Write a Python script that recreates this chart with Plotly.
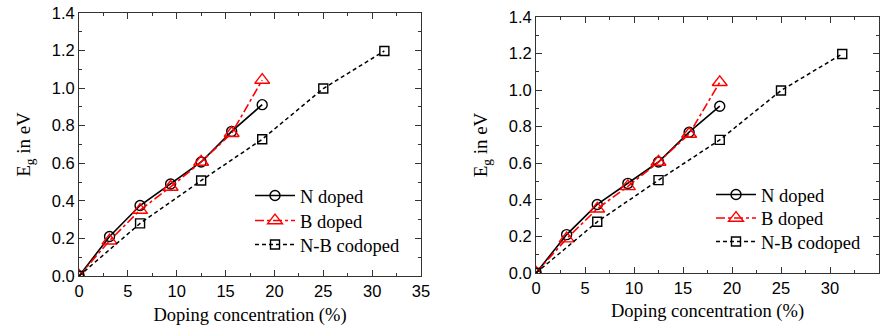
import plotly.graph_objects as go

# Band gap vs doping concentration
x_single = [0, 3.125, 6.25, 9.375, 12.5, 15.625, 18.75]
eg_n_doped = [0, 0.21, 0.375, 0.49, 0.607, 0.77, 0.912]
eg_b_doped = [0, 0.188, 0.351, 0.474, 0.607, 0.76, 1.043]

x_codoped = [0, 6.25, 12.5, 18.75, 25, 31.25]
eg_nb_codoped = [0, 0.28, 0.508, 0.728, 0.998, 1.198]

x_ticks = [0, 5, 10, 15, 20, 25, 30, 35]
y_ticks = [0.0, 0.2, 0.4, 0.6, 0.8, 1.0, 1.2, 1.4]

W, H = 888, 326
SERIF = "Liberation Serif, Times New Roman, serif"
SANS = "Liberation Sans, Arial, sans-serif"

# plot-area pixel boxes for the two panels: (left, right, top, bottom),
# plus the legend anchor (left x) and the centre y of each legend row
panels = [
    dict(box=(79, 421, 13, 276), leg_x=250, leg_rows=(196, 221, 245), xt_standoff=9),
    dict(box=(536, 879, 17, 273), leg_x=711, leg_rows=(195, 218.5, 242), xt_standoff=8),
]

series = [
    dict(name="N doped", x=x_single, y=eg_n_doped,
         line=dict(color="black", width=1.6, dash="solid"),
         marker=dict(symbol="circle-open", size=10, color="black", line=dict(width=1.4))),
    dict(name="B doped", x=x_single, y=eg_b_doped,
         line=dict(color="red", width=1.6, dash="dashdot"),
         marker=dict(symbol="triangle-up-open", size=13, color="red", line=dict(width=1.4))),
    dict(name="N-B codoped", x=x_codoped, y=eg_nb_codoped,
         line=dict(color="black", width=1.5, dash="4px,3px"),
         marker=dict(symbol="square-open", size=9, color="black", line=dict(width=1.4))),
]

fig = go.Figure()
layout = {}

for i, p in enumerate(panels):
    l, r, t, b = p["box"]
    sfx = "" if i == 0 else str(i + 1)
    xa, ya = "x" + sfx, "y" + sfx

    for k, s in enumerate(series):
        n = i * 3 + k + 1
        leg = "legend" if n == 1 else f"legend{n}"
        fig.add_trace(go.Scatter(
            x=s["x"], y=s["y"], name=s["name"], xaxis=xa, yaxis=ya, legend=leg,
            mode="lines+markers", cliponaxis=True, showlegend=True,
            line=s["line"], marker=s["marker"],
        ))
        layout[leg] = dict(
            x=p["leg_x"] / W, y=1 - p["leg_rows"][k] / H,
            xanchor="left", yanchor="middle",
            bgcolor="rgba(0,0,0,0)", borderwidth=0,
            font=dict(family=SERIF, size=18.5, color="black"),
            itemwidth=40, visible=True,
        )

    axis_common = dict(
        showgrid=False, zeroline=False, showline=True, mirror="allticks",
        automargin=False,
        linecolor="#333", linewidth=1, ticks="inside", ticklen=6, tickwidth=1,
        tickcolor="#333",
        tickfont=dict(family=SANS, size=16.5, color="black"),
    )
    layout["xaxis" + sfx] = dict(
        axis_common, domain=[l / W, r / W], anchor=ya, range=[0, 35],
        tickvals=x_ticks, ticktext=[str(v) for v in x_ticks],
        minor=dict(ticks="inside", ticklen=3, dtick=2.5, tickcolor="#333", showgrid=False),
        title=dict(text="Doping concentration (%)", standoff=p["xt_standoff"],
                   font=dict(family=SERIF, size=18.5, color="black")),
    )
    layout["yaxis" + sfx] = dict(
        axis_common, domain=[1 - b / H, 1 - t / H], anchor=xa, range=[0, 1.4],
        tickvals=y_ticks, ticktext=[f"{v:.1f}" for v in y_ticks],
        minor=dict(ticks="inside", ticklen=3, dtick=0.1, tickcolor="#333", showgrid=False),
        title=dict(text="E<sub>g</sub> in eV", standoff=16,
                   font=dict(family=SERIF, size=19, color="black")),
    )

fig.update_layout(
    width=W, height=H, margin=dict(l=0, r=0, t=0, b=0), showlegend=True,
    paper_bgcolor="white", plot_bgcolor="white", **layout,
)

fig.write_html("out.html")
